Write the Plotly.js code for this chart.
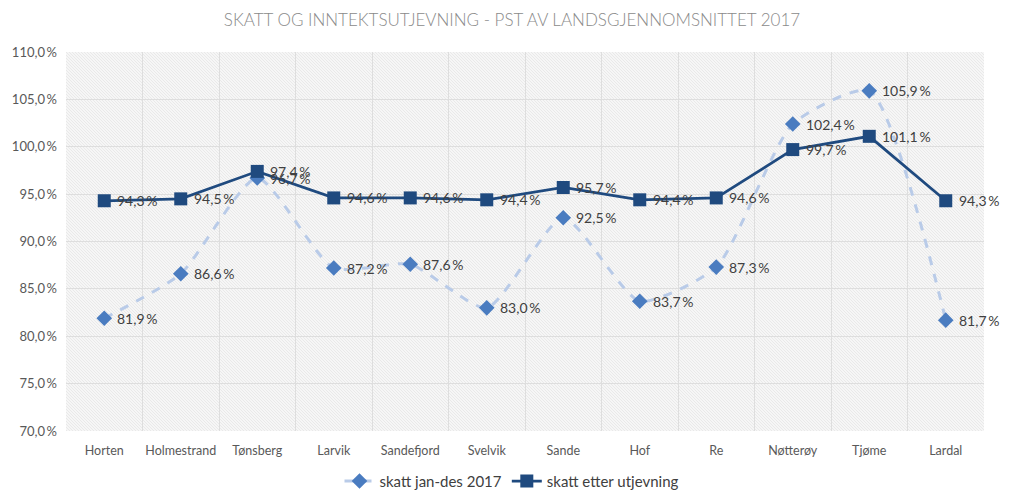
<!DOCTYPE html>
<html>
<head>
<meta charset="utf-8">
<script src="https://cdn.plot.ly/plotly-3.0.1.min.js"></script>
<style>html,body{margin:0;padding:0;background:#fff;}#chart{width:1024px;height:504px;}</style>
</head>
<body>
<div id="chart"></div>
<script>
const categories = ["Horten","Holmestrand","Tønsberg","Larvik","Sandefjord","Svelvik","Sande","Hof","Re","Nøtterøy","Tjøme","Lardal"];
const skattJanDes = [81.9, 86.6, 96.7, 87.2, 87.6, 83.0, 92.5, 83.7, 87.3, 102.4, 105.9, 81.7];
const skattEtter = [94.3, 94.5, 97.4, 94.6, 94.6, 94.4, 95.7, 94.4, 94.6, 99.7, 101.1, 94.3];
const yTicks = [70, 75, 80, 85, 90, 95, 100, 105, 110];

const fmt = v => v.toFixed(1).replace('.', ',') + '\u2009%';

const svg = '<svg xmlns="http://www.w3.org/2000/svg" width="918" height="379">' +
  '<defs><pattern id="p" width="3" height="3" patternUnits="userSpaceOnUse">' +
  '<rect width="3" height="3" fill="#f6f6f6"/>' +
  '<path d="M-1,-1 L4,4 M-1,2 L1,4 M2,-1 L4,1" stroke="#e6e6e6" stroke-width="0.8"/>' +
  '</pattern></defs><rect width="918" height="379" fill="url(#p)"/></svg>';
const bgSrc = 'data:image/svg+xml;charset=utf-8,' + encodeURIComponent(svg);

const FONT = 'Lato, "Open Sans", sans-serif';
const labelFont = {family: FONT, size: 14, color: '#404040'};

const traces = [
  {
    x: categories, y: skattJanDes, name: 'skatt jan-des 2017',
    type: 'scatter', mode: 'lines+markers',
    line: {color: '#b9cbe8', width: 3, dash: 'dash', shape: 'spline', smoothing: 0.6},
    marker: {symbol: 'diamond', size: 12, color: '#4a7cc0'}
  },
  {
    x: categories, y: skattEtter, name: 'skatt etter utjevning',
    type: 'scatter', mode: 'lines+markers',
    line: {color: '#1f4a7f', width: 2.75},
    marker: {symbol: 'square', size: 13, color: '#1f4a7f'}
  }
];

const annotations = [];
[skattJanDes, skattEtter].forEach(arr => {
  arr.forEach((v, i) => {
    annotations.push({x: categories[i], y: v, xref: 'x', yref: 'y', text: fmt(v),
      showarrow: false, xanchor: 'left', yanchor: 'middle', xshift: 11, font: labelFont});
  });
});

const layout = {
  width: 1024, height: 504,
  margin: {l: 66, r: 40, t: 52, b: 73},
  paper_bgcolor: '#ffffff', plot_bgcolor: '#ffffff',
  font: {family: FONT, color: '#595959', size: 13},
  title: {text: 'SKATT OG INNTEKTSUTJEVNING - PST AV LANDSGJENNOMSNITTET 2017',
          font: {family: FONT, size: 17, color: '#8a8a8a', weight: 300},
          x: 0.5, xanchor: 'center', y: 0.96, yanchor: 'middle'},
  xaxis: {type: 'category', tickson: 'boundaries', showgrid: true, gridcolor: '#dedede', gridwidth: 1,
          ticks: '', showline: false, zeroline: false, tickfont: {size: 12.5, color: '#595959'},
          tickangle: 0, range: [-0.5, 11.5], ticklabelstandoff: 10, automargin: false},
  yaxis: {range: [70, 110], tickvals: yTicks, ticktext: yTicks.map(fmt),
          showgrid: true, gridcolor: '#dedede', gridwidth: 1, zeroline: false, showline: false,
          ticks: '', tickfont: {size: 13, color: '#595959'}, ticklabelstandoff: 8, automargin: false},
  images: [{source: bgSrc, xref: 'paper', yref: 'paper', x: 0, y: 1, sizex: 1, sizey: 1,
            sizing: 'stretch', xanchor: 'left', yanchor: 'top', layer: 'below'}],
  annotations: annotations,
  showlegend: true,
  legend: {orientation: 'h', x: 0.5, xanchor: 'center', xref: 'container',
           y: 0.045, yanchor: 'middle', yref: 'container',
           font: {size: 15, color: '#404040'}}
};

Plotly.newPlot('chart', traces, layout, {displayModeBar: false, staticPlot: true});
</script>
</body>
</html>
